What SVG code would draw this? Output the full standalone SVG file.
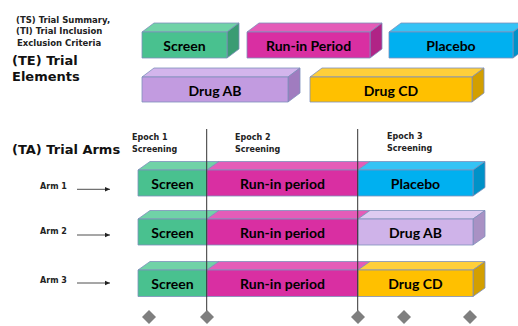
<svg xmlns="http://www.w3.org/2000/svg" width="518" height="326" viewBox="0 0 518 326">
<style>
.s{stroke:#7d8fbb;stroke-width:0.8;stroke-linejoin:round}
.lbl{font-family:Lato,"Open Sans",sans-serif;font-weight:bold;font-size:14px;fill:#000;text-anchor:middle;dominant-baseline:central}
.sm{font-family:"DejaVu Sans",Verdana,sans-serif;font-weight:bold;font-size:8px;fill:#222}
.ts{font-size:8.5px}
.hd{font-family:"DejaVu Sans",Verdana,sans-serif;font-weight:bold;font-size:13px;fill:#111}
.gF{fill:#49c18f}.gT{fill:#70d2a7}.gS{fill:#3a9c73}
.mF{fill:#d92fa2}.mT{fill:#e45cb8}.mS{fill:#b02486}
.bF{fill:#00b0f0}.bT{fill:#35c3f5}.bS{fill:#0092c8}
.lF{fill:#c29be0}.lT{fill:#d3b5ec}.lS{fill:#a07cbf}
.pF{fill:#cfb3e9}.pT{fill:#decbf1}.pS{fill:#a991c4}
.yF{fill:#ffc000}.yT{fill:#ffcf3a}.yS{fill:#d39f00}
.ep{stroke:#333;stroke-width:1}
.ar{stroke:#222;stroke-width:0.8;fill:none}
.dm{fill:#7f7f7f}
</style>
<defs>
<marker id="ah" markerWidth="6" markerHeight="6" refX="5" refY="3" orient="auto" markerUnits="userSpaceOnUse">
<path d="M0,0.8 L5,3 L0,5.2 Z" fill="#222"/>
</marker>
</defs>

<g id="text-labels">
<text class="sm ts" x="16" y="22.5">(TS) Trial Summary,</text>
<text class="sm ts" x="16" y="34">(TI) Trial Inclusion</text>
<text class="sm ts" x="17" y="46">Exclusion Criteria</text>
<text class="hd" x="12" y="65">(TE) Trial</text>
<text class="hd" x="12" y="81">Elements</text>
<text class="hd" x="12" y="154">(TA) Trial Arms</text>
<text class="sm" x="132" y="139.5">Epoch 1</text>
<text class="sm" x="132" y="152">Screening</text>
<text class="sm" x="235" y="139.5">Epoch 2</text>
<text class="sm" x="235" y="152">Screening</text>
<text class="sm" x="387" y="138.5">Epoch 3</text>
<text class="sm" x="387" y="150.5">Screening</text>
</g>

<g id="te-screen">
<polygon class="gT s" points="142,32 154,23 239,23 227,32"/>
<polygon class="gS s" points="227,32 239,23 239,49 227,58"/>
<rect class="gF s" x="142" y="32" width="85" height="26"/>
<text class="lbl" x="184.5" y="45.5">Screen</text>
</g>
<g id="te-runin">
<polygon class="mT s" points="247,32 259,23 382,23 370,32"/>
<polygon class="mS s" points="370,32 382,23 382,49 370,58"/>
<rect class="mF s" x="247" y="32" width="123" height="26"/>
<text class="lbl" x="308.5" y="45.5">Run-in Period</text>
</g>
<g id="te-placebo">
<polygon class="bT s" points="389,32 401,23 525,23 513,32"/>
<polygon class="bS s" points="513,32 525,23 525,49 513,58"/>
<rect class="bF s" x="389" y="32" width="124" height="26"/>
<text class="lbl" x="451" y="45.5">Placebo</text>
</g>
<g id="te-drugab">
<polygon class="lT s" points="142,77 154,68 300,68 288,77"/>
<polygon class="lS s" points="288,77 300,68 300,93 288,102"/>
<rect class="lF s" x="142" y="77" width="146" height="25"/>
<text class="lbl" x="215" y="90">Drug AB</text>
</g>
<g id="te-drugcd">
<polygon class="yT s" points="310,77 322,68 484,68 472,77"/>
<polygon class="yS s" points="472,77 484,68 484,93 472,102"/>
<rect class="yF s" x="310" y="77" width="162" height="25"/>
<text class="lbl" x="391" y="90">Drug CD</text>
</g>

<g id="arm1">
<text class="sm" x="40" y="189">Arm 1</text>
<polygon class="gT s" points="138,170 150,161.5 219,161.5 207,170"/>
<polygon class="mT s" points="207,170 219,161.5 370,161.5 358,170"/>
<polygon class="bT s" points="358,170 370,161.5 485,161.5 473,170"/>
<polygon class="bS s" points="473,170 485,161.5 485,187.5 473,196"/>
<rect class="gF s" x="138" y="170" width="69" height="26"/>
<rect class="mF s" x="207" y="170" width="151" height="26"/>
<rect class="bF s" x="358" y="170" width="115" height="26"/>
<text class="lbl" x="172.5" y="183.5">Screen</text>
<text class="lbl" x="282.5" y="183.5">Run-in period</text>
<text class="lbl" x="415.5" y="183.5">Placebo</text>
</g>
<g id="arm2">
<text class="sm" x="40" y="234">Arm 2</text>
<polygon class="gT s" points="138,219 150,210.5 219,210.5 207,219"/>
<polygon class="mT s" points="207,219 219,210.5 370,210.5 358,219"/>
<polygon class="pT s" points="358,219 370,210.5 485,210.5 473,219"/>
<polygon class="pS s" points="473,219 485,210.5 485,236.5 473,245"/>
<rect class="gF s" x="138" y="219" width="69" height="26"/>
<rect class="mF s" x="207" y="219" width="151" height="26"/>
<rect class="pF s" x="358" y="219" width="115" height="26"/>
<text class="lbl" x="172.5" y="232.5">Screen</text>
<text class="lbl" x="282.5" y="232.5">Run-in period</text>
<text class="lbl" x="415.5" y="232.5">Drug AB</text>
</g>
<g id="arm3">
<text class="sm" x="40" y="282.5">Arm 3</text>
<polygon class="gT s" points="138,270 150,261.5 219,261.5 207,270"/>
<polygon class="mT s" points="207,270 219,261.5 370,261.5 358,270"/>
<polygon class="yT s" points="358,270 370,261.5 485,261.5 473,270"/>
<polygon class="yS s" points="473,270 485,261.5 485,288 473,296.5"/>
<rect class="gF s" x="138" y="270" width="69" height="26.5"/>
<rect class="mF s" x="207" y="270" width="151" height="26.5"/>
<rect class="yF s" x="358" y="270" width="115" height="26.5"/>
<text class="lbl" x="172.5" y="283.5">Screen</text>
<text class="lbl" x="282.5" y="283.5">Run-in period</text>
<text class="lbl" x="415.5" y="283.5">Drug CD</text>
</g>

<g id="connectors">
<line class="ar" x1="77" y1="189.3" x2="110" y2="189.3" marker-end="url(#ah)"/>
<line class="ar" x1="77" y1="235" x2="110" y2="235" marker-end="url(#ah)"/>
<line class="ar" x1="77" y1="283" x2="110" y2="283" marker-end="url(#ah)"/>
<line class="ep" x1="206.7" y1="129" x2="206.7" y2="315"/>
<line class="ep" x1="357.7" y1="129" x2="357.7" y2="315"/>
</g>

<g id="milestones">
<polygon class="dm" points="149,310 156,317 149,324 142,317"/>
<polygon class="dm" points="207,310 214,317 207,324 200,317"/>
<polygon class="dm" points="358,310 365,317 358,324 351,317"/>
<polygon class="dm" points="404,310 411,317 404,324 397,317"/>
<polygon class="dm" points="470,310 477,317 470,324 463,317"/>
</g>
</svg>
